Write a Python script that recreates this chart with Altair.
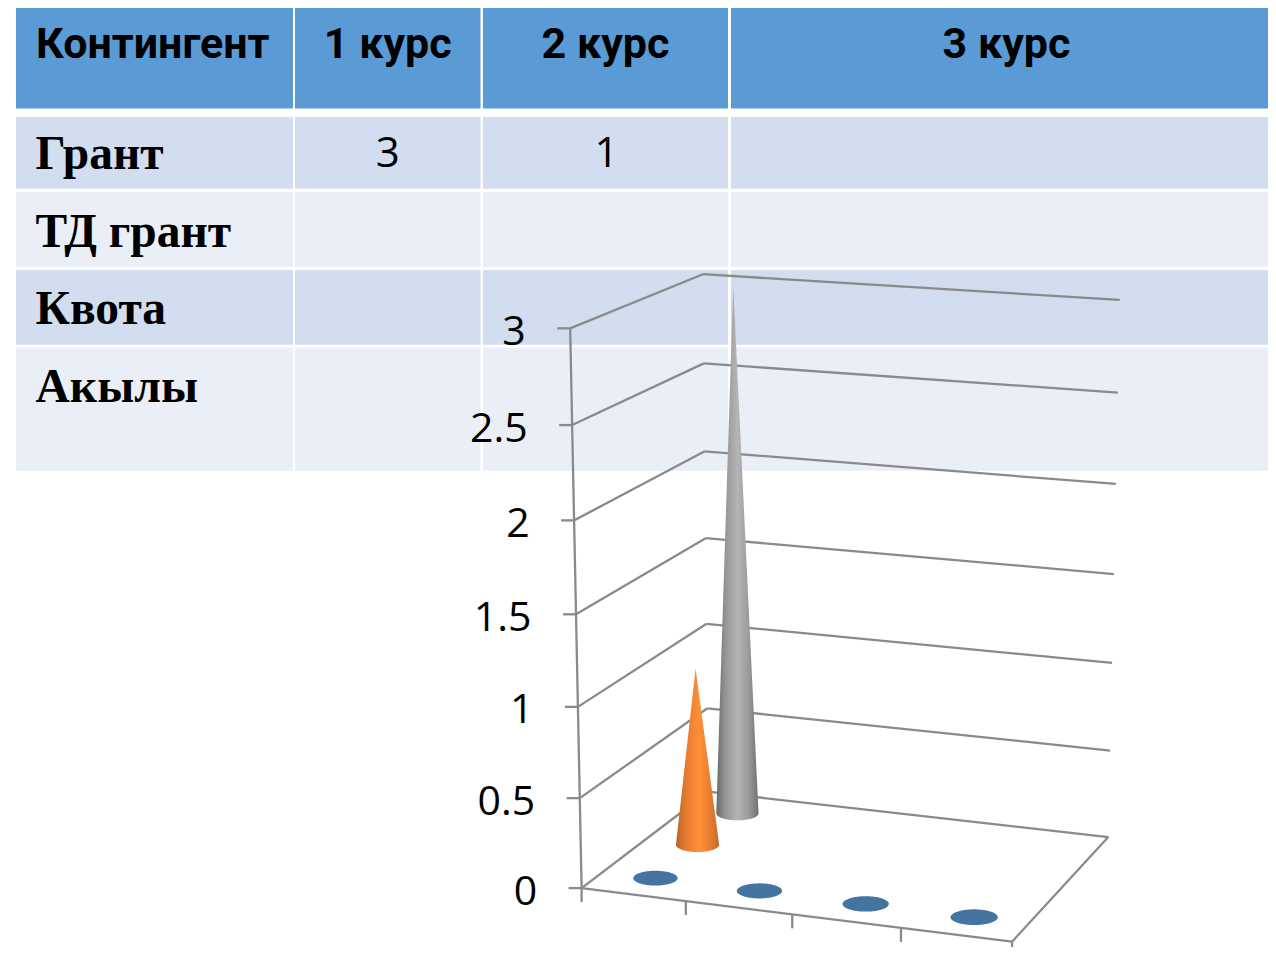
import numpy as np
import pandas as pd
import altair as alt

# ---- content
columns = ["Контингент", "1 курс", "2 курс", "3 курс"]
categories = ["Грант", "ТД грант", "Квота", "Акылы"]
table_values = [["3", "1", ""], ["", "", ""], ["", "", ""], ["", "", ""]]
value_ticks = [0, 0.5, 1, 1.5, 2, 2.5, 3]
series_front = [0, 0, 0, 0]
series_middle = [1, None, None, None]
series_back = [3, None, None, None]

# ---- layout (page pixels)
col_edges = [(16, 293), (295, 480.5), (483, 728), (731, 1276)]
row_edges = [(5, 108.5), (117, 188.7), (192, 266.7), (270, 344.7), (347.5, 470.7)]
row_fill = ["#5B9BD5", "#D2DEEF", "#EAEFF7", "#D2DEEF", "#EAEFF7"]
W, H = 1260, 939

# calibration of the 3-D view: (category pos, depth, value) -> page pixels
cal_levels = {
    (0, 0): [(582, 888), (580, 798), (578, 706), (576, 614), (574, 520), (572, 425), (570, 329)],
    (0, 1): [(708, 793), (707, 709), (707, 623), (706, 538), (705, 451), (704, 364), (702, 274)],
    (4, 1): [(1108, 836), (1110, 750), (1112, 663), (1114, 574), (1116, 484), (1118, 393), (1120, 300)],
}
A, B = [], []
for (u, w), pts in cal_levels.items():
    for v, (px, py) in zip(value_ticks, pts):
        A.append([u, w, v, 1, 0, 0, 0, 0, -px * u, -px * w, -px * v]); B.append(px)
        A.append([0, 0, 0, 0, u, w, v, 1, -py * u, -py * w, -py * v]); B.append(py)
for (u, w, v, px, py) in [(4, 0, 0, 1012, 942)]:
    for _ in range(4):
        A.append([u, w, v, 1, 0, 0, 0, 0, -px * u, -px * w, -px * v]); B.append(px)
        A.append([0, 0, 0, 0, u, w, v, 1, -py * u, -py * w, -py * v]); B.append(py)
P = np.linalg.lstsq(np.array(A, float), np.array(B, float), rcond=None)[0]


def proj(u, w, v):
    d = P[8] * u + P[9] * w + P[10] * v + 1
    return ((P[0] * u + P[1] * w + P[2] * v + P[3]) / d,
            (P[4] * u + P[5] * w + P[6] * v + P[7]) / d)


X = alt.X("x:Q", scale=alt.Scale(domain=[8, 8 + W], nice=False, zero=False), axis=None)
Y = alt.Y("y:Q", scale=alt.Scale(domain=[8 + H, 8], nice=False, zero=False), axis=None)
layers = []

# ---- table
cells = []
for r, (y0, y1) in enumerate(row_edges):
    for c, (x0, x1) in enumerate(col_edges):
        cells.append({"x": x0, "x2": x1, "y": y0, "y2": y1, "fill": row_fill[r]})
layers.append(alt.Chart(pd.DataFrame(cells)).mark_rect().encode(
    x=alt.X("x:Q", scale=alt.Scale(domain=[8, 8 + W], nice=False, zero=False, clamp=True), axis=None),
    x2="x2:Q", y=alt.Y("y:Q", scale=alt.Scale(domain=[8 + H, 8], nice=False, zero=False, clamp=True), axis=None),
    y2="y2:Q", fill=alt.Fill("fill:N", scale=None)))

centers = [(a + b) / 2 for a, b in col_edges]
head = [{"x": 36 if i == 0 else centers[i] + (3 if i == 3 else 0), "y": 58, "t": t,
         "a": "left" if i == 0 else "center"} for i, t in enumerate(columns)]
for align in ("left", "center"):
    layers.append(alt.Chart(pd.DataFrame([h for h in head if h["a"] == align])).mark_text(
        font="Roboto", fontWeight="bold", fontSize=43, align=align, baseline="alphabetic",
        color="#000000").encode(x=X, y=Y, text="t:N"))

row_base = [169, 247, 324, 402]
layers.append(alt.Chart(pd.DataFrame(
    [{"x": 35.5, "y": b, "t": t} for b, t in zip(row_base, categories)])).mark_text(
    font="Liberation Serif", fontWeight="bold", fontSize=47.5, align="left", baseline="alphabetic",
    color="#000000").encode(x=X, y=Y, text="t:N"))

vals = []
for b, row in zip(row_base, table_values):
    for i, t in enumerate(row):
        if t:
            vals.append({"x": centers[i + 1] + (1 if i else 0), "y": b - 2, "t": t})
layers.append(alt.Chart(pd.DataFrame(vals)).mark_text(
    font="Open Sans", fontSize=42, align="center", baseline="alphabetic",
    color="#000000").encode(x=X, y=Y, text="t:N"))

# ---- chart frame
segs = []
def seg(a, b):
    segs.append({"x": a[0], "y": a[1], "x2": b[0], "y2": b[1]})

for v in value_ticks:
    fl, bl, br = proj(0, 0, v), proj(0, 1, v), proj(4, 1, v)
    seg(fl, bl)
    seg(bl, br)
    seg((fl[0] - 13, fl[1]), fl)
seg(proj(0, 0, 0), proj(0, 0, 3))
seg(proj(0, 0, 0), proj(4, 0, 0))
seg(proj(4, 0, 0), proj(4, 1, 0))
for u in range(5):
    p = proj(u, 0, 0)
    seg(p, (p[0], p[1] + 14))
layers.append(alt.Chart(pd.DataFrame(segs)).mark_rule(color="#8A8A8A", strokeWidth=2.3).encode(
    x=X, x2="x2:Q", y=Y, y2="y2:Q"))

labels = []
for v in value_ticks:
    p = proj(0, 0, v)
    labels.append({"x": p[0] - 44.5, "y": p[1] + 4.5, "t": f"{v:g}"})
layers.append(alt.Chart(pd.DataFrame(labels)).mark_text(
    font="Open Sans", fontSize=41, align="right", baseline="middle",
    color="#000000").encode(x=X, y=Y, text="t:N"))


# ---- cones
def cone(u, depth, value, paint):
    cx, cy = proj(u, depth, 0)
    cy += 1
    ax, ay = proj(u, depth, value)
    rx = 0.213 * abs(proj(u + 1, depth, 0)[0] - cx)
    ry = rx / 3
    xs = cx - rx * np.cos(np.linspace(0, np.pi, 81))
    if value:
        xs = np.sort(np.append(xs, ax))
    half = ry * np.sqrt(np.clip(1 - ((xs - cx) / rx) ** 2, 0, 1))
    if value:
        top = np.where(xs <= ax,
                       cy + (ay - cy) * (xs - (cx - rx)) / (ax - (cx - rx)),
                       cy + (ay - cy) * ((cx + rx) - xs) / ((cx + rx) - ax))
    else:
        top = cy - half
    d = pd.DataFrame({"x": xs, "y": top, "y2": cy + half})
    return alt.Chart(d).mark_area(color=paint, interpolate="linear", opacity=1).encode(
        x=X, y=Y, y2="y2:Q")


grey_paint = alt.LinearGradient(gradient="linear", x1=0, x2=1, y1=0, y2=0, stops=[
    alt.GradientStop(color="#6A6A6A", offset=0), alt.GradientStop(color="#969696", offset=0.22),
    alt.GradientStop(color="#B5B5B5", offset=0.5), alt.GradientStop(color="#9C9C9C", offset=0.75),
    alt.GradientStop(color="#707070", offset=1)])
orange_paint = alt.LinearGradient(gradient="linear", x1=0, x2=1, y1=0, y2=0, stops=[
    alt.GradientStop(color="#B9642A", offset=0), alt.GradientStop(color="#E67C30", offset=0.25),
    alt.GradientStop(color="#FF9038", offset=0.55), alt.GradientStop(color="#E67C30", offset=0.8),
    alt.GradientStop(color="#C46B2B", offset=1)])

n = len(categories)
for i in range(n):
    if series_back[i] is not None:
        layers.append(cone(i + 0.5, 5 / 6, series_back[i], grey_paint))
for i in range(n):
    if series_middle[i] is not None:
        layers.append(cone(i + 0.5, 0.5, series_middle[i], orange_paint))
for i in range(n):
    if series_front[i] is not None:
        layers.append(cone(i + 0.5, 1 / 6, series_front[i], "#44749F"))

chart = alt.layer(*layers).properties(
    width=W, height=H, padding=0, autosize=alt.AutoSizeParams(type="none"),
    background="#FFFFFF").configure_view(stroke=None)
chart.save("out.html", embed_options={"renderer": "svg", "actions": False})
